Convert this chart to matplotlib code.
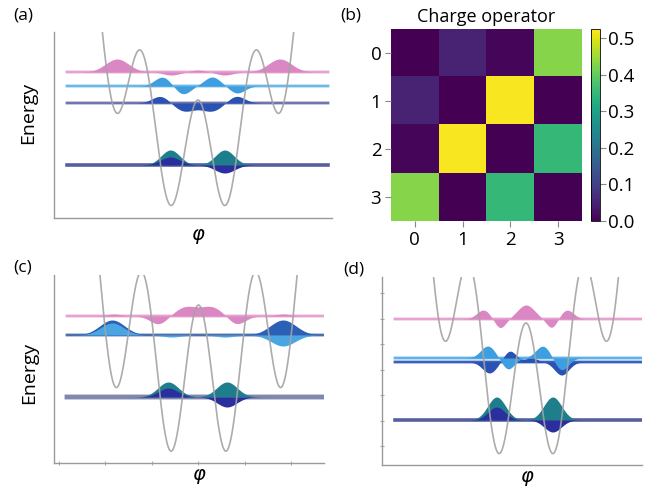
import numpy as np
import matplotlib.pyplot as plt

plt.rcParams['font.family'] = ['Open Sans', 'DejaVu Sans']
plt.rcParams['mathtext.fontset'] = 'dejavusans'

# energies of the potential extrema for each panel:
# [central bump, inner minima, outer minima]
extrema_a = [118, 13, 109]
extrema_c = [158, 12, 77]
extrema_d = [142, 12, 129]

# wavefunction lobes: (centre in rad, amplitude, width)
states_a = [
    (146, [(-9.1, 13, 1.3), (9.2, 13, 1.3), (-3.0, -3, 0.9), (3.0, -3, 0.9), (0.0, 2, 0.8)], '#db87c4', '#e6a3d0'),
    (132, [(-4.0, 9, 0.9), (-1.7, -8, 0.85), (1.6, 9, 0.9), (4.4, -7, 0.85)], '#3d9fe0', '#6cb8e6'),
    (115, [(-4.2, 7, 0.95), (-1.5, -8, 1.15), (1.5, -8, 1.15), (4.3, 7, 0.95)], '#2a52b2', '#7274ad'),
    (53, [(-3.1, 15, 1.05), (3.0, 15, 1.05)], '#1e7e8c', '#5b5e9e'),
    (53, [(-3.1, 8, 1.1), (3.0, -8, 1.1)], '#2b2e9e', None),
]
states_c = [
    (147, [(-9.5, 2, 0.8), (-4.5, -8, 0.95), (-1.4, 9, 1.2), (1.4, 9, 1.2), (4.3, -8, 0.95), (9.5, 2, 0.8)], '#db87c4', '#e6a3d0'),
    (128, [(-9.7, 15, 1.4), (9.5, 15, 1.45)], '#2c5fb6', '#4f6fa8'),
    (128, [(-9.7, 12, 1.3), (9.5, -11, 1.35), (-3.0, -2, 1.0), (3.0, -2, 1.0)], '#4aa6e2', None),
    (66, [(-3.4, 15, 1.15), (3.2, 15, 1.15)], '#1e7e8c', '#8088b0'),
    (66, [(-3.4, 9, 1.1), (3.2, -10, 1.1)], '#2b2e9e', None),
]
states_d = [
    (146, [(-4.8, 9, 0.75), (-2.9, -9, 0.6), (0.0, 14, 0.95), (2.9, -9, 0.6), (4.6, 9, 0.75)], '#db87c4', '#e6a3d0'),
    (103, [(-4.1, -11, 0.8), (-1.8, 11, 0.7), (0.6, 4, 0.7), (4.0, -13, 0.8)], '#2a52b2', '#3a60c0'),
    (107, [(-4.3, 12, 0.8), (-2.0, -11, 0.7), (1.9, 12, 0.8), (4.0, -12, 0.75)], '#3d9fe0', '#5fb3e6'),
    (45, [(-3.3, 23, 1.0), (3.0, 23, 1.0)], '#1e7e8c', '#5b5e9e'),
    (45, [(-3.3, 13, 0.95), (3.0, -12, 0.95)], '#2b2e9e', None),
]

# charge operator matrix elements
charge = [[0.00, 0.05, 0.01, 0.43],
          [0.05, 0.00, 0.52, 0.00],
          [0.01, 0.52, 0.00, 0.35],
          [0.43, 0.00, 0.35, 0.00]]
charge_ticks = [0, 1, 2, 3]
cbar_ticks = [0.0, 0.1, 0.2, 0.3, 0.4, 0.5]

PX = 8.9  # pixels per radian of phase


def potential(x, ext):
    bump, inner, outer = ext
    a = (outer - inner) / 8.0 / np.pi**2
    c = (bump + inner - a * np.pi**2) / 2.0
    b = bump - c
    return a * x**2 + b * np.cos(x) + c


def wave_panel(rect, ext, states, xlim_px, ylim, line_px):
    ax = fig.add_axes(rect)
    xs = np.linspace(line_px[0] / PX, line_px[1] / PX, 1200)
    for level, lobes, fill, line in states:
        psi = np.zeros_like(xs)
        for c0, amp, w in lobes:
            psi += amp * np.exp(-(xs - c0)**2 / (2 * w * w))
        if line:
            if line == '#8088b0':
                lw = 3.5
            elif level < 70:
                lw = 2.6
            else:
                lw = 2.0
            ax.plot(xs, np.full_like(xs, level), color=line, lw=lw, zorder=1)
        ax.fill_between(xs, level, level + psi, color=fill, lw=0, zorder=2)
    x = np.linspace(xlim_px[0] / PX, xlim_px[1] / PX, 3000)
    ax.plot(x, potential(x, ext), color='#a3a3a3', lw=1.2, alpha=0.9, zorder=3)
    ax.set_xlim(xlim_px[0] / PX, xlim_px[1] / PX)
    ax.set_ylim(*ylim)
    for s in ['top', 'right']:
        ax.spines[s].set_visible(False)
    for s in ['left', 'bottom']:
        ax.spines[s].set_color('#9a9a9a')
        ax.spines[s].set_linewidth(1.0)
    ax.set_xticks([])
    ax.set_yticks([])
    ax.tick_params(length=3, width=0.8, color='#aaaaaa', direction='inout')
    return ax


fig = plt.figure(figsize=(6.57, 4.95), dpi=100)

# (a)
ax_a = wave_panel([54 / 657, 1 - 218 / 495, 278 / 657, 186 / 495], extrema_a, states_a,
                  (-144, 134), (0, 186), (-131, 130))
# (c)
ax_c = wave_panel([54 / 657, 1 - 463 / 495, 270 / 657, 188 / 495], extrema_c, states_c,
                  (-144.5, 125.5), (0, 188), (-131.5, 125.5))
ax_c.set_xticks(np.arange(-3, 3) * 46.5 / PX)
ax_c.tick_params(axis='x', labelbottom=False)
# (d)
ax_d = wave_panel([382 / 657, 1 - 465 / 495, 260 / 657, 188 / 495], extrema_d, states_d,
                  (-144, 116), (0, 188), (-131, 116))
ax_d.set_yticks(np.arange(19, 180, 25.5))
ax_d.tick_params(axis='y', labelleft=False)

# (b) charge operator
ax_b = fig.add_axes([391 / 657, 1 - 221 / 495, 191 / 657, 192 / 495])
im = ax_b.imshow(charge, cmap='viridis', vmin=0, vmax=0.525, aspect='auto')
ax_b.set_xticks(charge_ticks)
ax_b.set_yticks(charge_ticks)
ax_b.tick_params(labelsize=13.5, length=4, pad=3, color='#888888')
for s in ax_b.spines.values():
    s.set_visible(False)
ax_b.set_title('Charge operator', fontsize=13, pad=5)
cax = fig.add_axes([591 / 657, 1 - 221 / 495, 9 / 657, 192 / 495])
cb = fig.colorbar(im, cax=cax, ticks=cbar_ticks)
cb.ax.set_yticklabels(['%.1f' % t for t in cbar_ticks])
cb.ax.tick_params(labelsize=13.5, length=4, pad=2, color='#888888')
cb.outline.set_linewidth(0.6)

# labels
fig.text(28 / 657, 1 - 113 / 495, 'Energy', rotation=90, ha='center', va='center', fontsize=14)
fig.text(29 / 657, 1 - 373 / 495, 'Energy', rotation=90, ha='center', va='center', fontsize=14)
fig.text(198 / 657, 1 - 236 / 495, r'$\varphi$', ha='center', va='center', fontsize=14)
fig.text(199 / 657, 1 - 476 / 495, r'$\varphi$', ha='center', va='center', fontsize=14)
fig.text(527 / 657, 1 - 478 / 495, r'$\varphi$', ha='center', va='center', fontsize=14)
for lab, x, y in [('(a)', 23, 15), ('(b)', 351, 15), ('(c)', 23, 268), ('(d)', 354, 269)]:
    fig.text(x / 657, 1 - y / 495, lab, ha='center', va='center', fontsize=12.5)

fig.savefig('out.png', dpi=100)
